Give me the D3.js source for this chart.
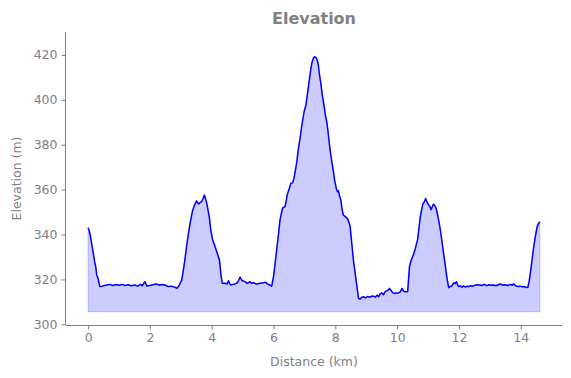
<!DOCTYPE html>
<html><head><meta charset="utf-8">
<script src="https://cdn.jsdelivr.net/npm/d3@7"></script>
<style>body{margin:0;background:#fff}text{font-family:"DejaVu Sans",sans-serif}</style>
</head><body><svg id="c" width="571" height="378"></svg>
<script>
const distance = [0.00,0.03,0.08,0.12,0.16,0.21,0.25,0.28,0.32,0.38,0.45,0.52,0.60,0.70,0.80,0.90,1.00,1.10,1.20,1.30,1.40,1.50,1.60,1.70,1.75,1.84,1.90,2.00,2.10,2.20,2.30,2.40,2.50,2.60,2.70,2.81,2.88,2.95,3.03,3.08,3.13,3.18,3.24,3.30,3.38,3.44,3.51,3.57,3.62,3.67,3.72,3.76,3.80,3.84,3.88,3.92,3.97,4.03,4.10,4.16,4.25,4.30,4.34,4.43,4.50,4.54,4.61,4.68,4.75,4.83,4.92,4.98,5.08,5.15,5.24,5.29,5.35,5.45,5.56,5.67,5.75,5.80,5.88,5.94,6.00,6.05,6.10,6.16,6.21,6.29,6.37,6.41,6.45,6.50,6.56,6.62,6.66,6.70,6.75,6.80,6.86,6.91,6.99,7.05,7.09,7.13,7.17,7.21,7.25,7.29,7.33,7.38,7.42,7.45,7.49,7.53,7.58,7.64,7.68,7.73,7.78,7.83,7.88,7.94,7.98,8.03,8.07,8.10,8.14,8.18,8.22,8.26,8.32,8.39,8.44,8.48,8.54,8.59,8.65,8.70,8.75,8.80,8.85,8.91,8.98,9.05,9.12,9.18,9.24,9.30,9.35,9.40,9.45,9.51,9.56,9.61,9.66,9.71,9.75,9.80,9.86,9.91,9.98,10.05,10.10,10.16,10.21,10.26,10.34,10.37,10.40,10.44,10.48,10.54,10.59,10.66,10.70,10.75,10.80,10.84,10.88,10.92,10.95,10.99,11.03,11.06,11.10,11.14,11.18,11.22,11.26,11.31,11.35,11.40,11.44,11.48,11.52,11.57,11.62,11.67,11.72,11.78,11.83,11.88,11.92,11.96,11.99,12.05,12.10,12.15,12.20,12.26,12.32,12.37,12.45,12.52,12.60,12.69,12.75,12.82,12.90,12.98,13.05,13.12,13.20,13.27,13.34,13.42,13.50,13.58,13.66,13.72,13.77,13.83,13.90,13.99,14.05,14.12,14.18,14.23,14.27,14.31,14.36,14.42,14.47,14.53,14.58,14.62];
const elevation = [343,342,339,335.5,332.4,328,325.4,322,320.5,316.8,317,317.3,317.5,317.8,317.3,317.7,317.4,317.8,317.3,317.6,317.2,317.5,317.0,317.8,317.2,319,317.1,317.3,317.6,318,317.5,317.7,317.4,316.8,317.0,316.5,316,317.5,319.7,324,328.6,334,339.8,345,350.6,353,355,353.6,354.2,354.6,356,357.6,356,354,351,348,342,337.6,335,332.4,328.7,322,318.3,318.3,318,319.4,317.5,317.8,318,318.5,321,319.5,319,318.2,319,318.3,318.5,317.9,318.3,318.5,318.7,318,317.5,317,321.2,327,333,340,346.5,351.7,352.4,355,358,360,362.8,363,365,368,372,377.7,383,388,394.7,397.7,402,405.9,410,414,417,418.5,419.2,418.8,417.5,415.5,411,407.4,402,397,393,389.6,384,377.7,373,368,364,360.6,359,359.5,357,355.4,351,348.7,348,347.2,345.5,343.5,335,328,322,316.8,311.6,311.2,312,312.3,311.8,312.4,312.1,312.6,312.5,312.2,313,312.3,313.5,314,313.2,314.5,315,315.2,316,315.2,314,313.8,313.9,314,314.5,316,314.8,314.5,314.5,320,325.7,328,329.4,331.5,333.9,337.6,342,348,351.5,353.9,354.5,356.1,355,353.9,353,352.5,351,352.5,353.5,352.8,351.7,348.7,346,342,338,333.9,330,325,320,316.3,316.8,317.3,318.5,318.2,319,317.5,316.8,317.2,316.5,317.2,316.6,317,316.8,317.2,317,317.4,317.6,317.5,317.3,317.8,317.2,317.6,317.4,317.5,317.2,317.6,318,317.4,317.6,317.3,317.8,317.4,318,317.2,316.9,317,316.7,316.8,316.4,316.5,319,322.7,328,334.6,339,343.5,345,345.7];
const fillBase = 305.6;
const xTicks = [0,2,4,6,8,10,12,14];
const yTicks = [300,320,340,360,380,400,420];
const title = "Elevation", xLabel = "Distance (km)", yLabel = "Elevation (m)";

const data = distance.map((d,i)=>({d, e: elevation[i]}));
const L=66, R=562, T=32, B=325;
const x = d3.scaleLinear().domain([-0.715, 15.335]).range([L, R]);
const y = d3.scaleLinear().domain([299.7, 430.2]).range([B, T]);
const svg = d3.select("#c");
const gray = "#808080";

svg.append("path").datum(data)
  .attr("d", d3.area().x(p=>x(p.d)).y0(y(fillBase)).y1(p=>y(p.e)))
  .attr("fill", "rgba(0,0,255,0.2)").attr("stroke","rgba(0,0,255,0.2)").attr("stroke-width",1);
svg.append("path").datum(data)
  .attr("d", d3.line().x(p=>x(p.d)).y(p=>y(p.e)))
  .attr("fill","none").attr("stroke","#0000ff").attr("stroke-width",1.5).attr("stroke-linejoin","round");

const xa = svg.append("g").attr("transform",`translate(0,${B})`)
  .call(d3.axisBottom(x).tickValues(xTicks).tickFormat(d3.format("d")).tickSize(4.5).tickPadding(4));
const ya = svg.append("g").attr("transform",`translate(${L},0)`)
  .call(d3.axisLeft(y).tickValues(yTicks).tickFormat(d3.format("d")).tickSize(4.5).tickPadding(4));
[xa,ya].forEach(g=>{
  g.select(".domain").attr("stroke",gray).attr("stroke-width",1).attr("d", g===xa?`M${L},0.5H${R}`:`M-0.5,${B}V${T}`);
  g.selectAll(".tick line").attr("stroke",gray);
  g.selectAll(".tick text").attr("fill",gray).style("font-size","12.5px").style("font-family","DejaVu Sans");
});
svg.append("text").attr("x",(L+R)/2).attr("y",24).attr("text-anchor","middle")
  .attr("fill",gray).style("font-size","16px").style("font-weight","bold").text(title);
svg.append("text").attr("x",(L+R)/2).attr("y",366).attr("text-anchor","middle")
  .attr("fill",gray).style("font-size","12.5px").text(xLabel);
svg.append("text").attr("transform",`translate(21,${(T+B)/2}) rotate(-90)`).attr("text-anchor","middle")
  .attr("fill",gray).style("font-size","12.5px").text(yLabel);
</script></body></html>
